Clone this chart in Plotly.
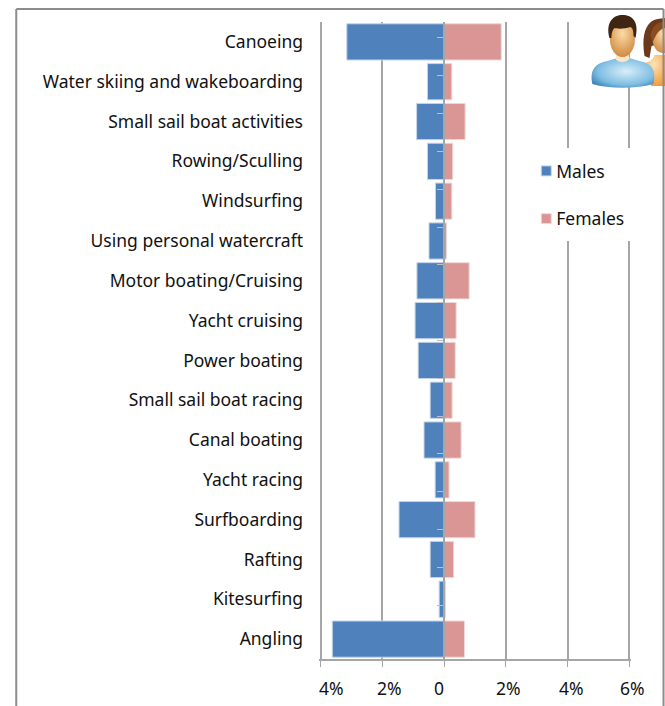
import base64
import plotly.graph_objects as go

categories = ["Canoeing", "Water skiing and wakeboarding", "Small sail boat activities", "Rowing/Sculling",
              "Windsurfing", "Using personal watercraft", "Motor boating/Cruising", "Yacht cruising",
              "Power boating", "Small sail boat racing", "Canal boating", "Yacht racing", "Surfboarding",
              "Rafting", "Kitesurfing", "Angling"]
males = [-3.15, -0.54, -0.89, -0.54, -0.28, -0.49, -0.88, -0.94, -0.84, -0.45, -0.65, -0.29, -1.46, -0.45, -0.16, -3.62]
females = [1.85, 0.25, 0.68, 0.28, 0.25, 0.08, 0.81, 0.39, 0.36, 0.26, 0.55, 0.16, 1.0, 0.31, 0.05, 0.66]
tick_vals = [-4, -2, 0, 2, 4, 6]
tick_text = ["4%", "2%", "0", "2%", "4%", "6%"]
label_nudge = [11, 7, -5, 3, 4, 3]

W, H = 665, 706
PAD = 0.05
PX = 30.85
L, R, T, B = 320.7 - PAD * PX, 629 + PAD * PX, 22, 659
FONT = "Noto Sans"
FS = 17.5
GRID = "#a6a6a6"
X0, X1 = -4 - PAD, 6 + PAD

def fx(px):
    return (px - L) / (R - L)
def fy(py):
    return (B - py) / (B - T)

icon = """<svg xmlns='http://www.w3.org/2000/svg' width='80' height='85' viewBox='0 0 80 85'>
<defs>
<radialGradient id='b' cx='.55' cy='.45' r='.7'><stop offset='0' stop-color='#d8eef8'/><stop offset='.65' stop-color='#7dbde2'/><stop offset='1' stop-color='#2b78b0'/></radialGradient>
<radialGradient id='o' cx='.5' cy='.3' r='.8'><stop offset='0' stop-color='#fde3b8'/><stop offset='1' stop-color='#f0942c'/></radialGradient>
<radialGradient id='s' cx='.5' cy='.35' r='.65'><stop offset='0' stop-color='#fcdca6'/><stop offset='1' stop-color='#d08a40'/></radialGradient>
</defs>
<path d='M57 56 C63 54 68 52 69 47 L80 47 L80 78 L66 78Z' fill='url(#o)'/>
<path d='M59 48 C56 30 59 13 72 11 L80 10 L80 46 L74 36 L66 38 L64 50Z' fill='#6b3a1a'/>
<ellipse cx='77' cy='30' rx='10' ry='15' fill='url(#s)'/>
<path d='M65 27 C67 16 74 14 80 14 L80 20 C74 21 71 25 67 35Z' fill='#8a4d22'/>
<path d='M7 76 C4 62 10 55 22 53 L32 50 L44 50 L54 53 C66 55 71 62 68 76 C50 81 24 81 7 76Z' fill='url(#b)'/>
<path d='M30 51 C33 55 40 55 44 51 L42 42 L32 42Z' fill='#fbe7c8'/>
<ellipse cx='37' cy='31' rx='12.500' ry='18' fill='url(#s)'/>
<path d='M24 30 C20 14 28 7 37 7 C47 7 54 14 50 30 L48 28 C48 22 47 20 45 19 C39 21 32 21 29 20 C27 22 26 25 26 30Z' fill='#3f2512'/>
</svg>"""
icon_uri = "data:image/svg+xml;base64," + base64.b64encode(icon.encode()).decode()

fig = go.Figure()
fig.add_bar(y=categories, x=males, name="Males", orientation="h", legendgroup="m",
            marker=dict(color="#4f81bd", line=dict(color="#c5d5ea", width=1)))
fig.add_bar(y=categories, x=females, name="Females", orientation="h", legendgroup="f",
            marker=dict(color="#d99694", line=dict(color="#f0d8d7", width=1)))
fig.add_scatter(y=categories, x=[0] * len(categories), yaxis="y2", mode="markers", showlegend=False,
                hoverinfo="skip", marker=dict(opacity=0, size=1))

annotations = [dict(x=v, xref="x", y=0, yref="paper", yanchor="middle", xanchor="center",
                    yshift=-(688 - B), xshift=n, text=t, showarrow=False,
                    font=dict(family=FONT, size=FS, color="#111111"))
               for v, t, n in zip(tick_vals, tick_text, label_nudge)]

fig.update_layout(
    width=W, height=H, autosize=False,
    margin=dict(l=L, r=W - R, t=T, b=H - B, pad=0),
    paper_bgcolor="white", plot_bgcolor="white",
    barmode="overlay", bargap=0.09,
    font=dict(family=FONT, size=FS, color="#111111"),
    xaxis=dict(range=[X0, X1], tickvals=tick_vals, showticklabels=False, ticks="outside", ticklen=6,
               tickcolor=GRID, showgrid=True, gridcolor=GRID, gridwidth=1.5, zeroline=False,
               showline=True, linecolor=GRID, linewidth=1.5),
    yaxis=dict(categoryorder="array", categoryarray=categories, autorange="reversed", ticks="",
               ticklabelstandoff=15, showline=False, showgrid=False, tickfont=dict(family=FONT, size=FS)),
    yaxis2=dict(overlaying="y", anchor="free", position=-X0 / (X1 - X0), side="left", categoryorder="array",
                categoryarray=categories, autorange="reversed", showticklabels=False, tickson="boundaries",
                ticks="outside", ticklen=6, tickcolor="#bfbfbf", showline=True, linecolor=GRID, linewidth=1.5,
                showgrid=False),
    legend=dict(x=fx(526), y=fy(153), xanchor="left", yanchor="top", bgcolor="rgba(255,255,255,0)", borderwidth=0,
                itemwidth=30, traceorder="grouped", tracegroupgap=22,
                font=dict(family=FONT, size=FS), itemclick=False, itemdoubleclick=False),
    annotations=annotations,
    shapes=[dict(type="rect", xref="paper", yref="paper", x0=fx(522), x1=fx(640), y0=fy(148), y1=fy(241),
                 fillcolor="white", line=dict(width=0), layer="above"),
            dict(type="line", xref="paper", yref="paper", x0=fx(17), x1=fx(663), y0=fy(9), y1=fy(9),
                 line=dict(color="#8c8c8c", width=2)),
            dict(type="line", xref="paper", yref="paper", x0=fx(17), x1=fx(17), y0=fy(9), y1=fy(710),
                 line=dict(color="#8c8c8c", width=2)),
            dict(type="line", xref="paper", yref="paper", x0=fx(663), x1=fx(663), y0=fy(9), y1=fy(710),
                 line=dict(color="#8c8c8c", width=2))],
    images=[dict(source=icon_uri, xref="paper", yref="paper", x=fx(585), y=fy(8), sizex=fx(665) - fx(585),
                 sizey=fy(8) - fy(93), xanchor="left", yanchor="top", sizing="stretch", layer="above")],
)

post = """
document.body.style.margin='0';document.body.style.overflow='hidden';
function tidyLegend(){
  document.querySelectorAll('.legend .legendtext').forEach(function(t){
    t.setAttribute('x','30');
    t.querySelectorAll('tspan').forEach(function(s){ if(s.getAttribute('x')) s.setAttribute('x','30'); });
  });
  document.querySelectorAll('.legend .legendpoints path').forEach(function(p){
    p.setAttribute('d','M5,5H-5V-5H5Z');
  });
}
tidyLegend(); setTimeout(tidyLegend, 50); setTimeout(tidyLegend, 300);
"""
fig.write_html("out.html", config=dict(displayModeBar=False), post_script=post)
